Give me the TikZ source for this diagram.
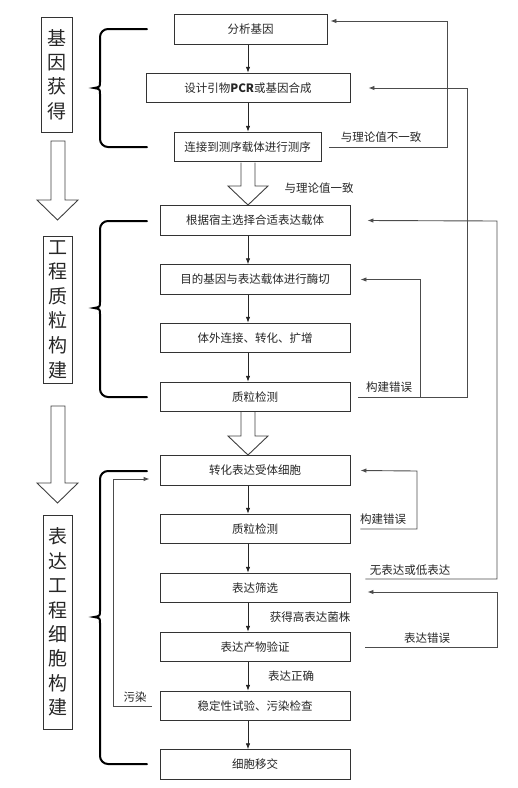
\documentclass[tikz,border=0pt]{standalone}
\usepackage{fontspec}
\setmainfont{Noto Sans CJK SC}
\usetikzlibrary{arrows.meta}
\begin{document}
\begin{tikzpicture}[x=1pt,y=-1pt,
  box/.style={draw=black!80, line width=0.9pt, minimum height=29.5pt, inner sep=0pt,
    font=\fontsize{11.5}{13}\selectfont, text=black!85},
  lab/.style={font=\fontsize{11.5}{13}\selectfont, text=black!85, inner sep=0pt},
  side/.style={draw=black!80, line width=0.9pt, inner sep=0pt, align=center, text=black!85},
  arr/.style={draw=black!85, line width=0.8pt, -{Latex[length=6pt,width=4.5pt]}},
  fb/.style={draw=black!70, line width=0.9pt, -{Latex[length=6pt,width=4.5pt]}},
  hollow/.style={draw=black!75, line width=0.9pt, fill=white, line join=miter},
  brace/.style={draw=black, line width=2pt, line cap=round}]
\useasboundingbox (0,0) rectangle (518,788);

% main boxes
\node[box, minimum width=153pt] (b1) at (250.5,29.5) {分析基因};
\node[box, minimum width=204pt] (b2) at (248,88) {设计引物\textbf{PCR}或基因合成};
\node[box, minimum width=147pt] (b3) at (247.5,147) {连接到测序载体进行测序};
\node[box, minimum width=190pt] (b4) at (255,220.5) {根据宿主选择合适表达载体};
\node[box, minimum width=190pt] (b5) at (255,279.5) {目的基因与表达载体进行酶切};
\node[box, minimum width=190pt] (b6) at (255,338) {体外连接、转化、扩增};
\node[box, minimum width=190pt] (b7) at (255,397) {质粒检测};
\node[box, minimum width=190pt] (b8) at (255,470.5) {转化表达受体细胞};
\node[box, minimum width=190pt] (b9) at (255,529) {质粒检测};
\node[box, minimum width=190pt] (b10) at (255,588) {表达筛选};
\node[box, minimum width=190pt] (b11) at (255,647) {表达产物验证};
\node[box, minimum width=190pt] (b12) at (255,706) {稳定性试验、污染检查};
\node[box, minimum width=190pt] (b13) at (255,764.5) {细胞移交};

% side labels
\node[side, minimum width=31pt, minimum height=115pt, font=\fontsize{19}{24.3}\selectfont] (s1) at (56.5,74.5) {基\\因\\获\\得};
\node[side, minimum width=29pt, minimum height=147pt, font=\fontsize{19}{24.6}\selectfont] (s2) at (57.5,309.5) {工\\程\\质\\粒\\构\\建};
\node[side, minimum width=29pt, minimum height=214pt, font=\fontsize{19}{24.4}\selectfont] (s3) at (57.5,622) {表\\达\\工\\程\\细\\胞\\构\\建};

% thin down arrows
\coordinate (ax) at (248,0);
\draw[arr] (b1.south -| ax) -- (b2.north -| ax);
\draw[arr] (b2.south -| ax) -- (b3.north -| ax);
\draw[arr] (b4.south -| ax) -- (b5.north -| ax);
\draw[arr] (b5.south -| ax) -- (b6.north -| ax);
\draw[arr] (b6.south -| ax) -- (b7.north -| ax);
\draw[arr] (b8.south -| ax) -- (b9.north -| ax);
\draw[arr] (b9.south -| ax) -- (b10.north -| ax);
\draw[arr] (b10.south -| ax) -- (b11.north -| ax);
\draw[arr] (b11.south -| ax) -- (b12.north -| ax);
\draw[arr] (b12.south -| ax) -- (b13.north -| ax);

% hollow arrows (center)
\draw[hollow] (241,162.5) -- (241,186) -- (228,186) -- (248,205) -- (268,186) -- (255,186) -- (255,162.5);
\draw[hollow] (241,412) -- (241,436) -- (228,436) -- (248,455) -- (268,436) -- (255,436) -- (255,412);
% hollow arrows (left)
\draw[hollow] (51,141) -- (51,200) -- (37,200) -- (57.5,220) -- (78,200) -- (65,200) -- (65,141) -- cycle;
\draw[hollow] (51,406) -- (51,483) -- (37,483) -- (57.5,503) -- (78,483) -- (65,483) -- (65,406) -- cycle;

% braces
\draw[brace, rounded corners=8pt] (147,29) -- (100,29) -- (100,82);
\draw[brace] (100,82) .. controls (100,87) .. (94,88) .. controls (100,89) .. (100,94);
\draw[brace, rounded corners=8pt] (100,94) -- (100,147) -- (147,147);

\draw[brace, rounded corners=8pt] (147,221) -- (100,221) -- (100,302);
\draw[brace] (100,302) .. controls (100,307) .. (94,308) .. controls (100,309) .. (100,314);
\draw[brace, rounded corners=8pt] (100,314) -- (100,397) -- (147,397);

\draw[brace, rounded corners=8pt] (147,471) -- (100,471) -- (100,611);
\draw[brace] (100,611) .. controls (100,616) .. (94,617) .. controls (100,618) .. (100,623);
\draw[brace, rounded corners=8pt] (100,623) -- (100,764) -- (147,764);

% feedback loops
\coordinate (f1a) at (447,21);
\draw[fb] ([xshift=8pt]b3.east) -| (f1a) -- ([xshift=3pt,yshift=8.5pt]b1.east);
\node[lab] (t1) at (381,137) {与理论值不一致};
\node[lab] (t2) at (319,188) {与理论值一致};

\coordinate (f2a) at (467,88);
\draw[fb] ([xshift=8pt]b7.east) -| (f2a) -- ([xshift=18pt]b2.east);
\coordinate (f2b) at (420,397);
\draw[fb] (f2b) |- ([xshift=10pt]b5.east);
\node[lab] (t3) at (389,387) {构建错误};

\coordinate (f5a) at (417,471);
\draw[fb] ([xshift=10pt]b9.east) -| (f5a) -- ([xshift=10pt]b8.east);
\node[lab] (t4) at (383,519) {构建错误};

\coordinate (f3a) at (497,221);
\draw[fb] ([xshift=15pt,yshift=9pt]b10.east) -| (f3a) -- ([xshift=17pt]b4.east);
\node[lab] (t5) at (410,570) {无表达或低表达};

\coordinate (f4a) at (497,592);
\draw[fb] ([xshift=15pt]b11.east) -| (f4a) -- ([xshift=17pt,yshift=-4pt]b10.east);
\node[lab] (t6) at (427,638) {表达错误};

\node[lab] (t7) at (310,617) {获得高表达菌株};
\node[lab] (t8) at (291,676) {表达正确};

\coordinate (f6a) at (113,479);
\draw[fb] ([xshift=-8pt]b12.west) -| (f6a) -- ([xshift=-10pt,yshift=-8.5pt]b8.west);
\node[lab] (t9) at (135,697) {污染};

\end{tikzpicture}
\end{document}
